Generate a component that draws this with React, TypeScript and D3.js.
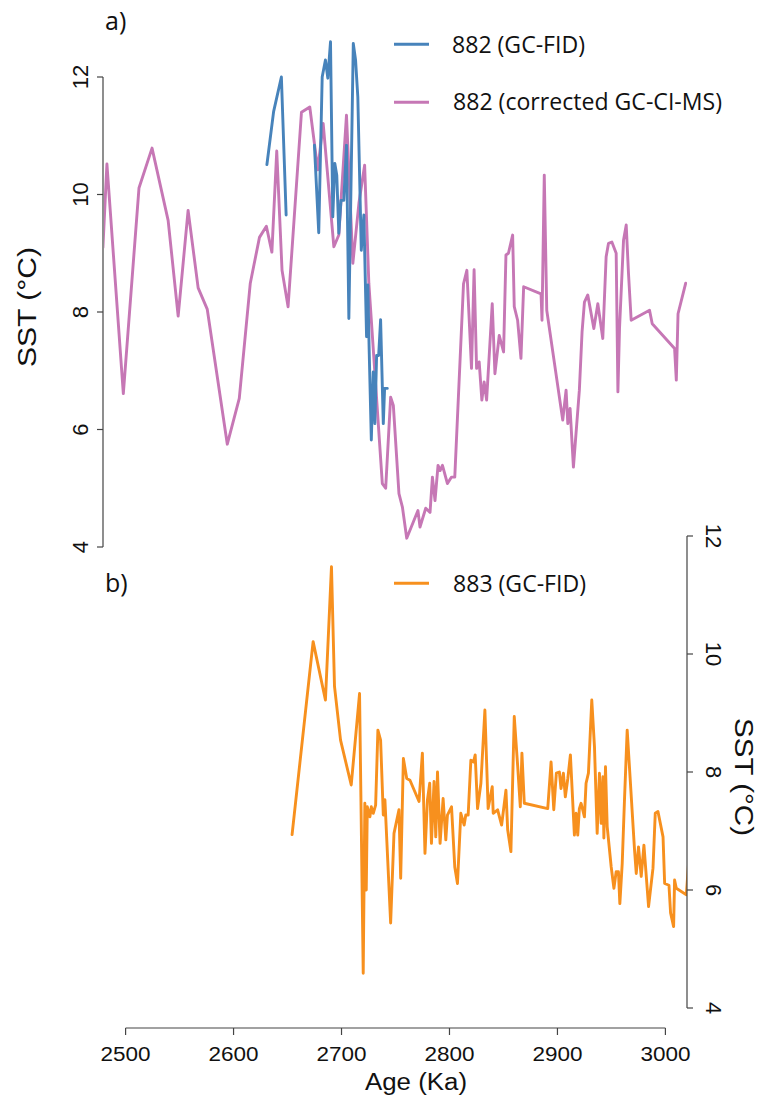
import React from "react";
import * as d3 from "d3";

const W = 759;
const H = 1099;

const xTicks = [2500, 2600, 2700, 2800, 2900, 3000];
const yTicks = [4, 6, 8, 10, 12];

const legendA = ["882 (GC-FID)", "882 (corrected GC-CI-MS)"];
const legendB = ["883 (GC-FID)"];

// 882 corrected GC-CI-MS (pink)
const pinkAge = [2479, 2482.7, 2497.9, 2512.4, 2524.5, 2539.4, 2548.7, 2557.9, 2567.2, 2575.6, 2594.2, 2605.3, 2615.5, 2624, 2630.4, 2635.5, 2640, 2644.9, 2650.5, 2662.9, 2670.6, 2678, 2683, 2692.9, 2697.5, 2704.6, 2710.5, 2716.1, 2721.4, 2725.3, 2737.8, 2740.9, 2745.5, 2748, 2753.2, 2756.4, 2760.4, 2770.8, 2772.7, 2778, 2782, 2784.2, 2786.6, 2789.4, 2791.3, 2793.5, 2798.1, 2801.9, 2804.9, 2813, 2816.1, 2820.4, 2822.8, 2825.1, 2827.5, 2830, 2832.1, 2834.4, 2839.6, 2842.1, 2846.1, 2850.1, 2852.3, 2854.6, 2858.5, 2860, 2863.1, 2866.2, 2868.7, 2884.8, 2885.7, 2887.8, 2890.1, 2904.9, 2908, 2909.6, 2911.7, 2914.8, 2920.3, 2922.8, 2925, 2928.1, 2933.7, 2937.4, 2942, 2945.1, 2947.3, 2950.4, 2954.4, 2956, 2957.5, 2961.2, 2963.7, 2965.8, 2968.3, 2985.3, 2987.8, 3008.5, 3010.1, 3011.7, 3018.8];
const pinkSST = [9.1, 10.52, 6.61, 10.11, 10.79, 9.56, 7.93, 9.73, 8.41, 8.05, 5.75, 6.53, 8.49, 9.27, 9.46, 9.02, 10.74, 8.71, 8.09, 11.4, 11.49, 10.42, 11.21, 9.11, 9.31, 11.35, 8.83, 9.85, 10.5, 8.49, 5.08, 5.0, 6.55, 6.41, 4.91, 4.68, 4.15, 4.62, 4.34, 4.66, 4.59, 5.19, 4.79, 5.39, 5.3, 5.39, 5.08, 5.19, 5.19, 8.48, 8.71, 7.04, 8.72, 7.04, 7.15, 6.5, 6.81, 6.5, 8.14, 6.95, 7.6, 7.32, 8.97, 9.0, 9.31, 8.09, 7.86, 7.21, 8.43, 8.31, 7.86, 10.33, 8.03, 6.16, 6.67, 6.1, 6.36, 5.36, 6.67, 7.66, 8.17, 8.29, 7.72, 8.14, 7.55, 8.94, 9.17, 9.19, 9.0, 6.64, 7.72, 9.22, 9.48, 8.66, 7.86, 8.03, 7.8, 7.38, 6.84, 7.97, 8.49];

// 882 GC-FID (blue), null = gap
const blueAge = [2630.9, 2637.1, 2644.3, 2648.7, 2661, 2674.9, 2678.9, 2682.1, 2685.1, 2687.3, 2689.8, 2691.9, 2693.8, 2695.6, 2697.5, 2699.5, 2702.1, 2704.6, 2706.8, 2710.9, 2713, 2715.1, 2718.3, 2720.7, 2723.2, 2724.4, 2725.5, 2727.6, 2729.4, 2730.9, 2732.5, 2734.4, 2736.2, 2738.7, 2739.9, 2742.4];
const blueSST: (number | null)[] = [10.51, 11.41, 12.0, 9.65, null, 10.84, 9.35, 12.0, 12.29, 11.98, 12.6, 9.62, 10.53, 10.33, 9.34, 9.9, 9.9, 10.84, 7.89, 12.57, 12.29, 11.66, 9.05, 9.65, 7.58, 8.46, 7.44, 5.82, 6.98, 6.1, 7.26, 7.26, 7.87, 6.1, 6.7, 6.7];

// 883 GC-FID (orange)
const orangeAge = [2654.2, 2673.7, 2685.1, 2690.7, 2693.5, 2699.1, 2709, 2716.7, 2720.1, 2721.6, 2722.9, 2723.9, 2726.3, 2727.6, 2729.4, 2731.6, 2733.7, 2736.2, 2738.7, 2740.2, 2745.5, 2748.6, 2753.2, 2754.8, 2757.3, 2760.4, 2763.4, 2771.8, 2774.9, 2777.3, 2779.6, 2781.7, 2783.3, 2785.7, 2787.3, 2788.9, 2791.3, 2794.1, 2796.6, 2798.1, 2801.9, 2804.9, 2807.4, 2810.5, 2813.6, 2815.1, 2817.3, 2819.8, 2822.3, 2823.8, 2826, 2829.1, 2832.8, 2835.8, 2839.6, 2840.5, 2844.6, 2848.3, 2852.3, 2853.9, 2856.9, 2860, 2863.2, 2865.6, 2867.1, 2869.3, 2891, 2894.1, 2896.6, 2899, 2901.8, 2903.3, 2905.5, 2907.3, 2909.6, 2912, 2915.7, 2917.3, 2918.8, 2920.3, 2921.9, 2925, 2926.5, 2928.7, 2931.8, 2934.3, 2936.8, 2938.9, 2940.5, 2942.1, 2943, 2944.5, 2946.1, 2949.8, 2952.3, 2954.4, 2956.5, 2957.8, 2960, 2962.1, 2964.6, 2971.4, 2973, 2975.1, 2977.6, 2980.1, 2984.4, 2988.5, 2990.6, 2993.1, 2997.8, 2999.3, 3003.3, 3004.8, 3007.6, 3008.5, 3010.1, 3019.4, 3022];
const orangeSST = [6.94, 10.21, 9.22, 11.48, 9.45, 8.54, 7.78, 9.33, 4.59, 7.47, 6.0, 7.41, 7.24, 7.41, 7.3, 7.44, 8.71, 8.54, 7.27, 7.53, 5.44, 6.96, 7.36, 6.2, 8.23, 7.89, 7.86, 7.5, 8.32, 6.62, 7.53, 7.81, 6.79, 7.84, 6.9, 8.0, 6.79, 7.55, 6.85, 7.27, 7.41, 6.39, 6.11, 7.3, 7.1, 7.27, 7.27, 8.2, 8.17, 8.29, 7.38, 7.81, 9.05, 7.38, 7.75, 7.3, 7.36, 7.1, 7.69, 7.02, 6.65, 8.94, 8.09, 7.41, 8.32, 7.47, 7.38, 8.17, 7.36, 7.98, 8.0, 7.72, 7.98, 7.58, 7.89, 8.29, 6.93, 7.3, 6.93, 7.38, 7.47, 7.24, 7.81, 7.98, 9.22, 8.43, 6.96, 7.98, 7.13, 7.92, 6.88, 8.09, 7.07, 6.39, 6.03, 6.31, 6.31, 5.77, 6.45, 7.53, 8.71, 6.68, 6.28, 6.73, 6.23, 6.76, 5.72, 6.37, 7.3, 7.33, 6.9, 6.11, 6.08, 5.61, 5.38, 6.17, 6.03, 5.92, 6.6];

const BLUE = "#4783bb";
const PINK = "#c677b5";
const ORANGE = "#f7901e";
const AXIS = "#444";
const SANS = "'Liberation Sans', Arial, sans-serif";
const MYR = "'Open Sans', 'Noto Sans', sans-serif";

export default function App() {
  const x = d3.scaleLinear().domain([2480, 3020]).range([104, 687]);
  const ya = d3.scaleLinear().domain([4, 12]).range([547, 77]);
  const yb = d3.scaleLinear().domain([4, 12]).range([1008, 536]);

  const mk = (ages: number[], vals: (number | null)[], y: d3.ScaleLinear<number, number>) =>
    d3
      .line<number>()
      .defined((i) => vals[i] != null)
      .x((i) => x(ages[i]))
      .y((i) => y(vals[i] as number))(d3.range(ages.length)) || "";

  const pinkPath = mk(pinkAge, pinkSST, ya);
  const bluePath = mk(blueAge, blueSST, ya);
  const orangePath = mk(orangeAge, orangeSST, yb);

  const xL = x(2480);
  const xR = x(3020);
  const axisY = 1028;

  return (
    <svg width={W} height={H} style={{ position: "absolute", left: 0, top: 0, background: "#fff" }}>
      <defs>
        <clipPath id="plotclip">
          <rect x={xL} y={0} width={xR - xL} height={H} />
        </clipPath>
      </defs>
      <rect x={0} y={0} width={W} height={H} fill="#fff" />

      {/* Data lines */}
      <g clipPath="url(#plotclip)" fill="none" strokeWidth={2.9} strokeLinejoin="round" strokeLinecap="round">
        <path d={pinkPath} stroke={PINK} />
        <path d={bluePath} stroke={BLUE} />
        <path d={orangePath} stroke={ORANGE} />
      </g>

      {/* Left axis panel a */}
      <g stroke={AXIS} strokeWidth={1.2}>
        <line x1={xL - 1} x2={xL - 1} y1={ya(12)} y2={ya(4)} />
        {yTicks.map((t) => (
          <line key={"la" + t} x1={xL - 7} x2={xL - 1} y1={ya(t)} y2={ya(t)} />
        ))}
      </g>
      {yTicks.map((t) => (
        <text
          key={"lat" + t}
          transform={`translate(${xL - 16},${ya(t)}) rotate(-90)`}
          textAnchor="middle"
          fontFamily={SANS}
          fontSize={22}
          fill="#111"
        >
          {t}
        </text>
      ))}
      <text
        transform={`translate(36,${(ya(4) + ya(12)) / 2 - 5}) rotate(-90)`}
        textAnchor="middle"
        fontFamily={SANS}
        fontSize={25}
        textLength={120}
        lengthAdjust="spacingAndGlyphs"
        fill="#111"
      >
        SST (°C)
      </text>

      {/* Right axis panel b */}
      <g stroke={AXIS} strokeWidth={1.2}>
        <line x1={xR} x2={xR} y1={yb(12)} y2={yb(4)} />
        {yTicks.map((t) => (
          <line key={"rb" + t} x1={xR} x2={xR + 6} y1={yb(t)} y2={yb(t)} />
        ))}
      </g>
      {yTicks.map((t) => (
        <text
          key={"rbt" + t}
          transform={`translate(${xR + 19},${yb(t)}) rotate(90)`}
          textAnchor="middle"
          fontFamily={SANS}
          fontSize={22}
          fill="#111"
        >
          {t}
        </text>
      ))}
      <text
        transform={`translate(735,${(yb(4) + yb(12)) / 2 + 5}) rotate(90)`}
        textAnchor="middle"
        fontFamily={SANS}
        fontSize={25}
        textLength={118}
        lengthAdjust="spacingAndGlyphs"
        fill="#111"
      >
        SST (°C)
      </text>

      {/* Bottom axis */}
      <g stroke={AXIS} strokeWidth={1.2}>
        <line x1={x(2500)} x2={x(3000)} y1={axisY} y2={axisY} />
        {xTicks.map((t) => (
          <line key={"bx" + t} x1={x(t)} x2={x(t)} y1={axisY} y2={axisY + 7} />
        ))}
      </g>
      {xTicks.map((t) => (
        <text
          key={"bxt" + t}
          x={x(t)}
          y={1061}
          textAnchor="middle"
          fontFamily={SANS}
          fontSize={20}
          textLength={50}
          lengthAdjust="spacingAndGlyphs"
          fill="#111"
        >
          {t}
        </text>
      ))}
      <text
        x={416}
        y={1090}
        textAnchor="middle"
        fontFamily={SANS}
        fontSize={23}
        textLength={102}
        lengthAdjust="spacingAndGlyphs"
        fill="#111"
      >
        Age (Ka)
      </text>

      {/* Panel labels */}
      <text x={105} y={30} fontFamily={MYR} fontSize={25} fill="#111">
        a)
      </text>
      <text x={105} y={592} fontFamily={MYR} fontSize={25} fill="#111">
        b)
      </text>

      {/* Legends */}
      <g strokeWidth={2.9}>
        <line x1={394} x2={429} y1={44.3} y2={44.3} stroke={BLUE} />
        <line x1={394} x2={429} y1={102.3} y2={102.3} stroke={PINK} />
        <line x1={394} x2={429} y1={583.3} y2={583.3} stroke={ORANGE} />
      </g>
      <text x={452} y={52.7} fontFamily={MYR} fontSize={24} textLength={133} lengthAdjust="spacingAndGlyphs" fill="#111">
        {legendA[0]}
      </text>
      <text x={453} y={110} fontFamily={MYR} fontSize={24} textLength={269} lengthAdjust="spacingAndGlyphs" fill="#111">
        {legendA[1]}
      </text>
      <text x={453} y={591.7} fontFamily={MYR} fontSize={24} textLength={133} lengthAdjust="spacingAndGlyphs" fill="#111">
        {legendB[0]}
      </text>
    </svg>
  );
}
